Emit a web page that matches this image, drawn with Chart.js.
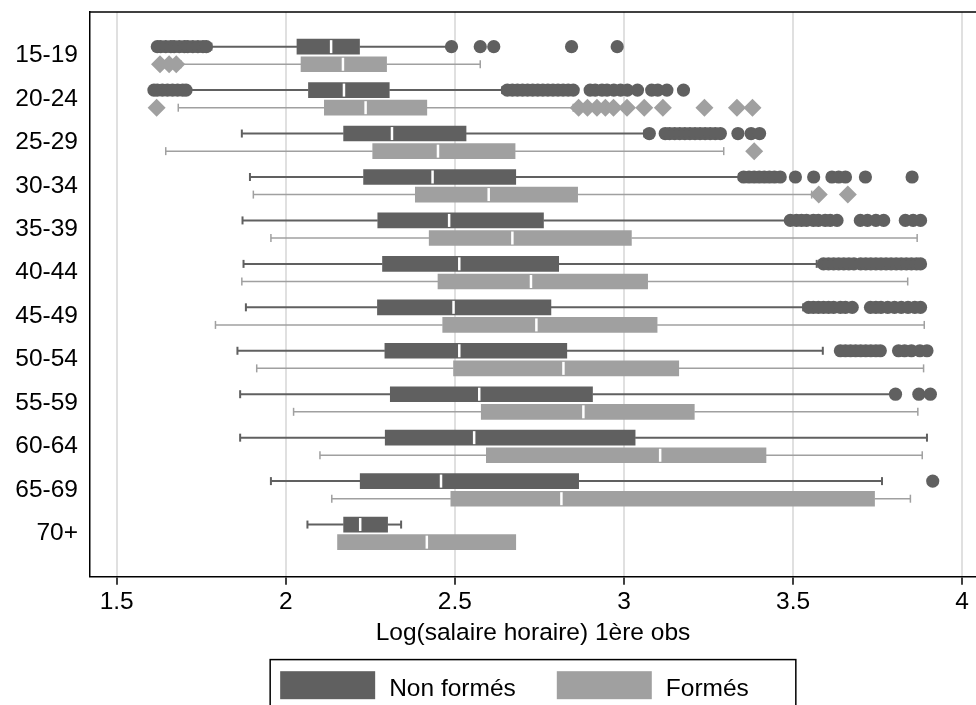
<!DOCTYPE html>
<html lang="fr">
<head>
<meta charset="utf-8">
<title>Log(salaire horaire) 1ère obs par âge</title>
<script src="https://cdn.jsdelivr.net/npm/chart.js@4.4.1/dist/chart.umd.min.js"></script>
<style>
  html, body { margin: 0; padding: 0; background: #fff; }
</style>
</head>
<body>
<canvas id="chart" width="976" height="705"></canvas>
<script>
const ageGroups = ['15-19', '20-24', '25-29', '30-34', '35-39', '40-44',
                   '45-49', '50-54', '55-59', '60-64', '65-69', '70+'];
const xTicks = [1.5, 2, 2.5, 3, 3.5, 4];
const seriesLabels = ['Non formés', 'Formés'];
const seriesColors = ['#606060', '#a0a0a0'];

// Non formés
const nfLow  = [1.78, 1.715, 1.870, 1.894, 1.872, 1.875, 1.882, 1.857, 1.865, 1.865, 1.956, 2.064];
const nfQ1   = [2.033, 2.067, 2.171, 2.230, 2.272, 2.286, 2.271, 2.293, 2.309, 2.294, 2.220, 2.171];
const nfMed  = [2.134, 2.172, 2.314, 2.434, 2.483, 2.513, 2.496, 2.513, 2.572, 2.557, 2.459, 2.220];
const nfQ3   = [2.218, 2.306, 2.533, 2.680, 2.762, 2.807, 2.784, 2.831, 2.907, 3.033, 2.866, 2.301];
const nfHigh = [2.48, 2.64, 3.06, 3.34, 3.48, 3.57, 3.53, 3.588, 3.79, 3.896, 3.763, 2.341];
const nfOutliers = [
  [1.62, 1.63, 1.645, 1.66, 1.67, 1.685, 1.70, 1.71, 1.725, 1.74, 1.755, 1.765, 2.49, 2.575, 2.615, 2.845, 2.98],
  [1.61, 1.62, 1.635, 1.65, 1.665, 1.68, 1.695, 1.705, 2.655, 2.67, 2.685, 2.70, 2.715, 2.73, 2.745, 2.76,
   2.775, 2.79, 2.805, 2.82, 2.835, 2.85, 2.90, 2.915, 2.935, 2.95, 2.97, 2.99, 3.01, 3.04, 3.082, 3.10, 3.127, 3.176],
  [3.075, 3.122, 3.135, 3.15, 3.165, 3.18, 3.195, 3.21, 3.225, 3.24, 3.255, 3.27, 3.285, 3.337, 3.376, 3.401],
  [3.354, 3.37, 3.385, 3.40, 3.415, 3.43, 3.445, 3.462, 3.507, 3.561, 3.615, 3.635, 3.655, 3.714, 3.852],
  [3.492, 3.51, 3.525, 3.54, 3.56, 3.575, 3.595, 3.61, 3.63, 3.699, 3.72, 3.745, 3.768, 3.832, 3.855, 3.877],
  [3.59, 3.605, 3.62, 3.635, 3.65, 3.665, 3.68, 3.70, 3.715, 3.73, 3.745, 3.76, 3.775, 3.79, 3.805, 3.82,
   3.835, 3.85, 3.865, 3.877],
  [3.546, 3.56, 3.575, 3.59, 3.605, 3.62, 3.64, 3.655, 3.675, 3.729, 3.745, 3.76, 3.78, 3.80, 3.82, 3.84, 3.86, 3.877],
  [3.640, 3.655, 3.67, 3.685, 3.70, 3.715, 3.73, 3.745, 3.758, 3.812, 3.83, 3.85, 3.875, 3.896],
  [3.803, 3.872, 3.906],
  [],
  [3.913],
  []
];

// Formés
const fLow  = [1.69, 1.682, 1.645, 1.904, 1.956, 1.870, 1.792, 1.914, 2.023, 2.101, 2.136, 2.153];
const fQ1   = [2.045, 2.114, 2.257, 2.383, 2.424, 2.450, 2.464, 2.496, 2.578, 2.593, 2.488, 2.153];
const fMed  = [2.169, 2.236, 2.450, 2.600, 2.670, 2.725, 2.741, 2.821, 2.880, 3.107, 2.815, 2.417];
const fQ3   = [2.298, 2.417, 2.678, 2.863, 3.022, 3.070, 3.098, 3.162, 3.208, 3.420, 3.741, 2.680];
const fHigh = [2.575, 2.85, 3.295, 3.555, 3.867, 3.839, 3.888, 3.886, 3.869, 3.882, 3.847, 2.680];
const fOutliers = [
  [1.628, 1.655, 1.676],
  [1.618, 2.866, 2.892, 2.920, 2.945, 2.969, 3.009, 3.060, 3.115, 3.238, 3.334, 3.380],
  [3.385],
  [3.576, 3.662],
  [], [], [], [], [], [], [], []
];

const stats = [
  { low: nfLow, q1: nfQ1, med: nfMed, q3: nfQ3, high: nfHigh, out: nfOutliers },
  { low: fLow, q1: fQ1, med: fMed, q3: fQ3, high: fHigh, out: fOutliers }
];

const FONT = '"Liberation Sans", Arial, Helvetica, sans-serif';
const FONT_SIZE = 24.5;
Chart.defaults.font.family = FONT;
Chart.defaults.font.size = FONT_SIZE;
Chart.defaults.color = '#000';

// blank slots at both ends leave the half-step gap above and below the groups
const yLabels = [''].concat(ageGroups, ['']);

function boxData(q1, q3) {
  return [null].concat(q1.map((v, i) => [v, q3[i]]), [null]);
}

const boxExtras = {
  id: 'boxExtras',
  beforeDatasetsDraw(chart) {
    const ctx = chart.ctx;
    const xs = chart.scales.x;
    stats.forEach((s, d) => {
      const meta = chart.getDatasetMeta(d);
      ctx.save();
      ctx.strokeStyle = seriesColors[d];
      ctx.lineWidth = d === 0 ? 2 : 1.5;
      ageGroups.forEach((g, i) => {
        const y = meta.data[i + 1].y;
        // whisker: [end value, box edge]
        [[s.low[i], s.q1[i]], [s.high[i], s.q3[i]]].forEach(([end, edge]) => {
          if (end === edge) return;
          const ex = xs.getPixelForValue(end);
          ctx.beginPath();
          ctx.moveTo(ex, y);
          ctx.lineTo(xs.getPixelForValue(edge), y);
          ctx.stroke();
          ctx.beginPath();
          ctx.moveTo(ex, y - 4);
          ctx.lineTo(ex, y + 4);
          ctx.stroke();
        });
      });
      ctx.restore();
    });
  },
  afterDatasetsDraw(chart) {
    const ctx = chart.ctx;
    const xs = chart.scales.x;
    stats.forEach((s, d) => {
      const meta = chart.getDatasetMeta(d);
      ctx.save();
      ageGroups.forEach((g, i) => {
        const bar = meta.data[i + 1];
        const y = bar.y;
        const h = bar.height;
        // median
        ctx.strokeStyle = '#fff';
        ctx.lineWidth = 2.5;
        const mx = xs.getPixelForValue(s.med[i]);
        ctx.beginPath();
        ctx.moveTo(mx, y - h / 2 + 1);
        ctx.lineTo(mx, y + h / 2 - 1);
        ctx.stroke();
        // outside values
        ctx.fillStyle = seriesColors[d];
        s.out[i].forEach(v => {
          const px = xs.getPixelForValue(v);
          ctx.beginPath();
          if (d === 0) {
            ctx.arc(px, y, 6.6, 0, Math.PI * 2);
          } else {
            ctx.moveTo(px, y - 9);
            ctx.lineTo(px + 9, y);
            ctx.lineTo(px, y + 9);
            ctx.lineTo(px - 9, y);
            ctx.closePath();
          }
          ctx.fill();
        });
      });
      ctx.restore();
    });
  },
  afterDraw(chart) {
    const ctx = chart.ctx;
    const area = chart.chartArea;
    const xs = chart.scales.x;
    ctx.save();
    // top frame line
    ctx.strokeStyle = '#000';
    ctx.lineWidth = 1.5;
    ctx.beginPath();
    ctx.moveTo(area.left, area.top);
    ctx.lineTo(chart.width, area.top);
    ctx.stroke();

    // legend
    ctx.font = FONT_SIZE + 'px ' + FONT;
    const sw = 95, sh = 28, gapText = 14, gapItem = 41, padL = 10, padR = 47;
    const widths = seriesLabels.map(t => ctx.measureText(t).width);
    const total = padL + padR + 2 * (sw + gapText) + widths[0] + widths[1] + gapItem;
    const left = (area.left + area.right) / 2 - total / 2;
    const top = xs.bottom + 12;
    ctx.strokeRect(left, top, total, 80);
    let x = left + padL;
    seriesLabels.forEach((t, d) => {
      ctx.fillStyle = seriesColors[d];
      ctx.fillRect(x, top + 11.6, sw, sh);
      ctx.fillStyle = '#000';
      ctx.textBaseline = 'alphabetic';
      ctx.fillText(t, x + sw + gapText, top + 36);
      x += sw + gapText + widths[d] + gapItem;
    });
    ctx.restore();
  }
};

new Chart(document.getElementById('chart'), {
  type: 'bar',
  data: {
    labels: yLabels,
    datasets: [
      { label: seriesLabels[0], data: boxData(nfQ1, nfQ3), backgroundColor: seriesColors[0] },
      { label: seriesLabels[1], data: boxData(fQ1, fQ3), backgroundColor: seriesColors[1] }
    ]
  },
  options: {
    indexAxis: 'y',
    responsive: false,
    animation: false,
    layout: { padding: { top: 12, right: 0, bottom: 57.4, left: 0 } },
    datasets: {
      bar: { barThickness: 17.6, maxBarThickness: 15, borderWidth: 0 }
    },
    plugins: {
      legend: { display: false },
      tooltip: { enabled: false }
    },
    scales: {
      x: {
        type: 'linear',
        min: 1.421,
        max: 4.041,
        afterBuildTicks: scale => { scale.ticks = xTicks.map(v => ({ value: v })); },
        ticks: { padding: 3, callback: v => String(v) },
        grid: { color: '#e0e0e0', lineWidth: 2, tickColor: '#000', tickLength: 8, tickWidth: 1.5 },
        border: { color: '#000', width: 1.5 },
        title: { display: true, text: 'Log(salaire horaire) 1ère obs', padding: { top: -2, bottom: 0 } }
      },
      y: {
        type: 'category',
        offset: false,
        grid: { display: false, drawTicks: false },
        border: { color: '#000', width: 1.5 },
        ticks: { padding: 12, autoSkip: false },
        afterFit: scale => {
          scale.width = 90;
          scale.paddingTop = 0;
          scale.paddingBottom = 0;
        }
      }
    }
  },
  plugins: [boxExtras]
});
</script>
</body>
</html>
